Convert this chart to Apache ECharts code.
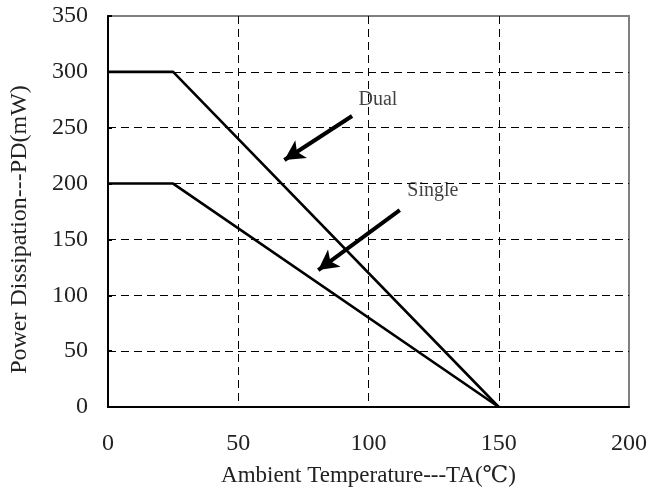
<!DOCTYPE html>
<html>
<head>
<meta charset="utf-8">
<script src="https://cdn.jsdelivr.net/npm/echarts@6/dist/echarts.min.js"></script>
<style>html,body{margin:0;padding:0;background:#fff;}#c{width:650px;height:493px;}</style>
</head>
<body>
<div id="c"></div>
<script>
const temps = [0, 25, 150];
const dualPower = [300, 300, 0];
const singlePower = [200, 200, 0];
const xTicks = [0, 50, 100, 150, 200];
const yTicks = [0, 50, 100, 150, 200, 250, 300, 350];
const labelNames = ['Dual', 'Single'];
const labelPos = [[103.6, 274.8], [124.7, 193.4]];
const arrowFrom = [[93.7, 260.5], [112.0, 176.3]];
const arrowTo = [[67.7, 221.1], [80.7, 122.6]];

const font = '"Liberation Serif", "DejaVu Serif", serif';
const chart = echarts.init(document.getElementById('c'));
const zip = (xs, ys) => xs.map((x, i) => [x, ys[i]]);

chart.setOption({
  animation: false,
  backgroundColor: '#fff',
  grid: { left: 108, right: 18, top: 16, bottom: 86, show: true, borderColor: '#808080', borderWidth: 2 },
  xAxis: {
    type: 'value', min: xTicks[0], max: xTicks[xTicks.length - 1], interval: 50,
    name: 'Ambient Temperature---TA(℃)', nameLocation: 'middle', nameGap: 57,
    nameTextStyle: { fontFamily: font, fontSize: 23, color: '#222' },
    axisLine: { show: true, lineStyle: { color: '#000', width: 2 } },
    axisTick: { show: false },
    axisLabel: { fontFamily: font, fontSize: 24, color: '#222', margin: 25 },
    splitLine: { show: true, showMinLine: false, showMaxLine: false, lineStyle: { color: '#000', width: 1, type: [8, 5] } }
  },
  yAxis: {
    type: 'value', min: yTicks[0], max: yTicks[yTicks.length - 1], interval: 50,
    name: 'Power Dissipation---PD(mW)', nameLocation: 'middle', nameGap: 76,
    nameTextStyle: { fontFamily: font, fontSize: 24, color: '#222', padding: [0, 36, 0, 0] },
    axisLine: { show: true, lineStyle: { color: '#000', width: 2 } },
    axisTick: { show: true, inside: true, length: 4, lineStyle: { color: '#000', width: 2 } },
    axisLabel: { fontFamily: font, fontSize: 24, color: '#222', margin: 20 },
    splitLine: { show: true, showMinLine: false, showMaxLine: false, lineStyle: { color: '#000', width: 1, type: [8, 5] } }
  },
  series: [
    { name: 'Dual', type: 'line', data: zip(temps, dualPower), symbol: 'none', lineStyle: { color: '#000', width: 2.6 } },
    { name: 'Single', type: 'line', data: zip(temps, singlePower), symbol: 'none', lineStyle: { color: '#000', width: 2.6 } },
    {
      type: 'scatter', symbolSize: 0,
      data: labelPos.map((p, i) => ({ value: p, name: labelNames[i] })),
      label: { show: true, position: 'inside', formatter: '{b}', fontFamily: font, fontSize: 20, color: '#111' },
      markLine: {
        silent: true, symbol: ['none', 'arrow'], symbolSize: [16, 20],
        label: { show: false },
        lineStyle: { color: '#000', width: 4, type: 'solid' },
        data: arrowFrom.map((f, i) => [{ coord: f }, { coord: arrowTo[i] }])
      }
    }
  ]
});
</script>
</body>
</html>
